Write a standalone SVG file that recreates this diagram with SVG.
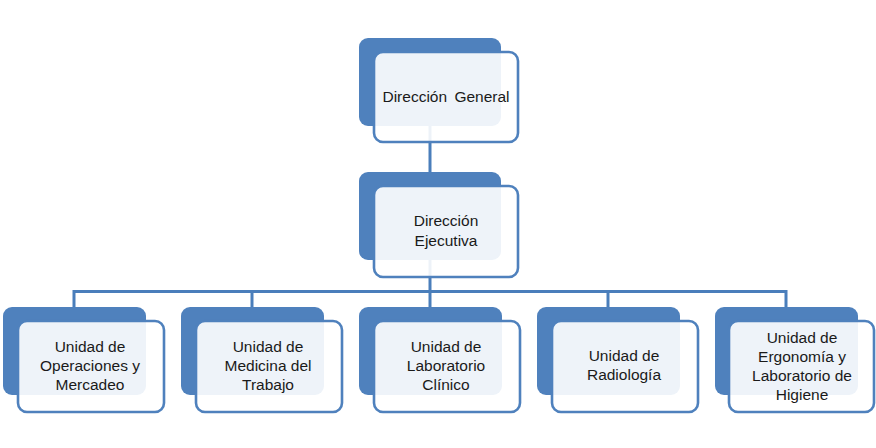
<svg xmlns="http://www.w3.org/2000/svg" width="876" height="448" viewBox="0 0 876 448">
<style>
.back{fill:#4f81bd;}
.front{fill:#ffffff;fill-opacity:0.9;stroke:#4f81bd;stroke-width:2.6;}
.conn{fill:none;stroke:#4a7ebb;stroke-width:3;}
text{font-family:"Liberation Sans",Arial,sans-serif;font-size:15.5px;fill:#1a1a1a;text-anchor:middle;}
</style>
<rect width="876" height="448" fill="#ffffff"/>
<g id="connectors">
<path class="conn" d="M430,126 V172"/>
<path class="conn" d="M430,260 V292"/>
<path class="conn" d="M74,307 V291.5 H786 V307"/>
<path class="conn" d="M252,291.5 V307"/>
<path class="conn" d="M430,291.5 V307"/>
<path class="conn" d="M608,291.5 V307"/>
</g>
<g id="direccion-general">
<rect class="back" x="359" y="38" width="142" height="88" rx="9"/>
<rect class="front" x="374" y="52" width="144" height="90" rx="9"/>
<text x="446" y="102" word-spacing="3">Dirección General</text>
</g>
<g id="direccion-ejecutiva">
<rect class="back" x="359" y="172" width="142" height="88" rx="9"/>
<rect class="front" x="374" y="186" width="144" height="91" rx="9"/>
<text x="446" y="226">Dirección</text>
<text x="446" y="246">Ejecutiva</text>
</g>
<g id="unidad-operaciones">
<rect class="back" x="3" y="307" width="143" height="88" rx="9"/>
<rect class="front" x="18" y="321" width="146" height="91" rx="9"/>
<text x="90" y="352">Unidad de</text>
<text x="90" y="371">Operaciones y</text>
<text x="90" y="390">Mercadeo</text>
</g>
<g id="unidad-medicina">
<rect class="back" x="181" y="307" width="143" height="88" rx="9"/>
<rect class="front" x="196" y="321" width="146" height="91" rx="9"/>
<text x="268" y="352">Unidad de</text>
<text x="268" y="371">Medicina del</text>
<text x="268" y="390">Trabajo</text>
</g>
<g id="unidad-laboratorio">
<rect class="back" x="359" y="307" width="143" height="88" rx="9"/>
<rect class="front" x="374" y="321" width="146" height="91" rx="9"/>
<text x="446" y="352">Unidad de</text>
<text x="446" y="371">Laboratorio</text>
<text x="446" y="390">Clínico</text>
</g>
<g id="unidad-radiologia">
<rect class="back" x="537" y="307" width="143" height="88" rx="9"/>
<rect class="front" x="552" y="321" width="146" height="91" rx="9"/>
<text x="624" y="361">Unidad de</text>
<text x="624" y="380">Radiología</text>
</g>
<g id="unidad-ergonomia">
<rect class="back" x="715" y="307" width="143" height="88" rx="9"/>
<rect class="front" x="729" y="321" width="145" height="91" rx="9"/>
<text x="802" y="343">Unidad de</text>
<text x="802" y="362">Ergonomía y</text>
<text x="802" y="381">Laboratorio de</text>
<text x="802" y="400">Higiene</text>
</g>
</svg>
